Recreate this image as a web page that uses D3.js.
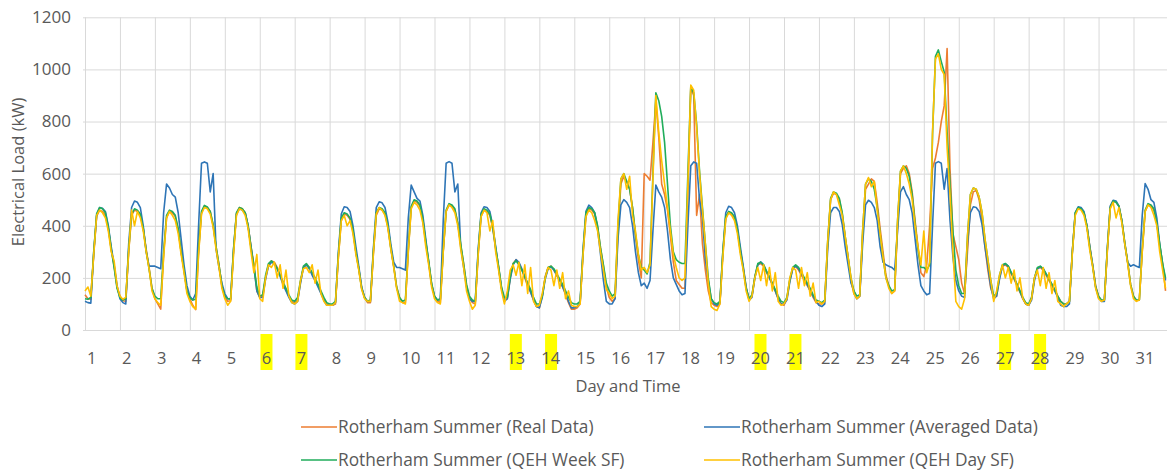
<!DOCTYPE html>
<html>
<head>
<meta charset="utf-8">
<script src="https://cdn.jsdelivr.net/npm/d3@7"></script>
<style>
  body { margin: 0; background: #fff; }
  svg { display: block; font-family: "Open Sans", sans-serif; }
  .grid line { stroke: #d9d9d9; stroke-width: 1; }
  .grid path { display: none; }
  .tick-label { fill: #595959; }
</style>
</head>
<body>
<svg id="chart" width="1167" height="473"></svg>
<script>
// day labels along the bottom, weekends highlighted in yellow
var days = d3.range(1, 32);
var highlightDays = [6, 7, 13, 14, 20, 21, 27, 28];
var yTicks = [0, 200, 400, 600, 800, 1000, 1200];

// 12 readings per day (every 2 hours), one row per day
var realData = [
  [135,120,118,290,437,460,455,440,390,310,245,165],
  [130,112,110,300,440,460,455,440,390,310,240,160],
  [120,100,80,290,430,455,450,435,385,300,230,150],
  [120,95,78,300,450,475,470,455,400,320,250,170],
  [125,110,112,300,447,470,465,450,400,320,250,150],
  [125,130,200,250,265,260,240,210,180,155,130,110],
  [105,115,185,240,250,240,215,195,170,145,120,100],
  [95,95,100,280,420,445,440,425,380,300,235,160],
  [125,105,105,290,440,465,460,445,395,315,245,165],
  [125,105,105,300,470,495,490,475,420,335,260,175],
  [130,110,105,300,455,480,475,460,410,325,255,170],
  [125,105,100,290,437,460,455,440,390,310,240,160],
  [115,120,200,255,270,255,230,200,170,145,115,90],
  [85,130,205,240,245,230,210,190,165,135,105,80],
  [80,85,100,290,440,465,460,445,395,315,245,165],
  [125,110,120,380,560,590,570,540,470,360,270,200],
  [600,590,575,720,880,740,560,520,460,360,260,190],
  [175,160,160,520,930,900,440,520,330,230,150,105],
  [95,90,100,290,430,450,445,430,385,305,240,160],
  [120,130,205,250,255,245,220,200,175,150,120,100],
  [95,120,190,235,245,230,210,190,170,150,125,105],
  [100,100,110,330,500,525,520,500,445,355,280,190],
  [140,120,130,360,540,560,580,570,490,390,300,210],
  [170,140,150,400,600,620,630,600,530,420,320,220],
  [205,250,400,620,660,720,800,860,1080,620,370,320],
  [270,180,140,300,480,530,535,500,420,320,230,160],
  [130,130,200,245,250,240,215,195,170,145,120,100],
  [95,120,200,235,240,230,210,190,170,150,130,110],
  [100,100,110,300,447,470,465,450,400,320,250,170],
  [130,112,115,300,470,495,490,475,420,335,260,175],
  [130,112,115,300,455,480,475,460,410,325,255,150]
];

var averagedData = [
  [110,105,103,300,440,470,467,455,400,320,250,170],
  [120,105,100,330,470,495,490,470,400,300,245,245],
  [245,240,235,450,560,545,520,510,450,350,250,170],
  [130,115,140,400,640,645,640,530,600,310,240,180],
  [140,120,118,310,445,465,460,450,400,320,240,150],
  [125,125,195,245,260,255,235,205,175,150,125,105],
  [100,110,180,240,250,235,210,190,165,140,115,95],
  [95,95,105,300,445,473,470,455,400,320,245,165],
  [125,110,110,310,470,492,488,470,415,330,260,240],
  [240,235,230,430,556,530,505,495,440,350,260,175],
  [130,115,120,420,640,646,640,530,560,320,240,165],
  [120,110,110,310,450,473,470,455,400,320,240,160],
  [110,120,195,250,270,260,235,205,175,145,115,90],
  [85,125,195,235,243,230,210,190,165,140,110,85],
  [85,90,105,310,455,479,470,450,390,290,190,110],
  [100,100,120,350,480,500,490,470,400,300,220,170],
  [180,160,190,380,556,530,510,470,380,270,200,175],
  [150,135,140,400,630,645,640,500,430,270,190,120],
  [100,95,105,300,450,475,470,450,400,320,245,165],
  [115,125,200,250,262,250,225,200,175,150,120,100],
  [100,115,185,235,245,235,215,195,175,150,130,110],
  [95,90,100,310,450,470,470,455,405,320,250,180],
  [150,120,130,330,480,498,490,470,420,320,260,250],
  [245,240,230,380,530,550,520,500,450,350,250,170],
  [150,135,140,400,640,646,640,540,620,420,280,190],
  [150,130,125,330,450,473,470,455,405,320,245,165],
  [120,130,195,245,255,245,220,200,175,150,120,100],
  [95,115,190,235,243,235,215,195,175,150,125,95],
  [90,90,100,300,450,473,470,455,400,320,245,165],
  [125,110,110,310,475,498,495,475,420,330,260,245],
  [250,245,240,440,562,540,500,490,430,330,250,190]
];

var weekSFData = [
  [120,118,125,300,447,470,465,450,395,310,240,160],
  [125,115,120,310,445,465,460,445,390,305,235,160],
  [130,120,120,300,440,460,455,440,390,300,230,150],
  [125,115,118,310,455,478,472,455,405,320,250,170],
  [130,120,120,310,450,470,465,450,400,315,245,165],
  [130,135,210,255,265,255,235,210,185,160,135,115],
  [110,125,190,245,255,240,220,200,175,150,125,105],
  [100,100,110,290,430,450,445,430,385,300,235,160],
  [125,110,115,300,450,470,465,450,400,315,245,165],
  [125,110,115,310,475,500,495,480,425,340,265,180],
  [130,115,115,305,460,485,480,465,410,330,255,175],
  [130,115,110,300,445,465,460,445,395,315,245,165],
  [125,125,205,255,265,250,230,205,180,155,125,100],
  [100,130,200,240,245,235,215,195,175,150,125,105],
  [100,100,110,300,450,470,465,450,400,315,250,180],
  [150,130,140,400,580,600,570,540,470,370,290,240],
  [230,215,260,600,910,880,820,720,560,400,300,270],
  [260,255,255,600,935,910,790,610,470,330,200,120],
  [105,100,110,300,435,455,450,435,385,305,235,160],
  [120,135,205,255,260,250,225,205,180,155,130,110],
  [105,125,195,240,250,240,220,200,180,160,135,115],
  [110,105,115,340,505,530,525,505,450,360,280,200],
  [150,130,135,380,560,580,570,540,470,370,280,200],
  [170,150,155,420,610,630,620,590,520,410,310,240],
  [240,230,250,750,1050,1075,1030,990,760,560,380,230],
  [170,140,140,360,520,545,540,510,450,350,270,190],
  [130,140,210,250,255,245,220,200,175,150,125,105],
  [100,125,200,240,245,235,215,195,175,155,130,110],
  [100,100,110,300,450,470,465,450,400,315,245,165],
  [130,115,115,310,470,495,490,475,420,335,260,175],
  [130,115,115,310,460,485,480,465,410,330,255,200]
];

var daySFData = [
  [150,165,130,290,440,460,450,430,380,300,265,170],
  [130,118,125,300,460,400,455,430,380,300,235,150],
  [120,105,95,280,430,455,440,420,370,290,220,140],
  [110,90,80,290,445,470,465,445,395,310,240,160],
  [120,95,110,290,440,465,460,440,390,300,220,290],
  [120,110,200,250,240,260,200,250,160,230,130,105],
  [100,110,190,235,240,220,250,180,230,140,110,95],
  [95,95,105,280,420,440,400,420,370,290,230,155],
  [120,110,110,290,445,470,460,440,390,310,240,160],
  [110,105,100,300,465,490,480,460,410,320,250,165],
  [120,105,100,300,455,480,470,450,400,310,240,150],
  [110,80,95,290,435,460,450,380,420,300,230,150],
  [100,150,230,250,210,260,170,250,140,240,110,90],
  [95,140,200,240,230,170,230,160,220,120,150,95],
  [90,90,100,290,435,460,450,420,380,300,230,155],
  [140,120,130,420,580,600,540,590,440,380,290,230],
  [240,220,250,580,900,760,650,560,470,380,290,240],
  [200,190,200,560,940,920,780,600,460,330,180,90],
  [80,75,100,280,425,450,440,420,370,290,230,150],
  [110,130,200,240,190,250,170,240,150,220,110,95],
  [100,120,200,240,230,160,240,170,220,130,180,105],
  [110,100,110,340,500,530,520,480,440,360,280,200],
  [140,120,130,380,560,585,550,570,460,370,280,200],
  [160,140,150,420,610,630,600,560,500,400,320,250],
  [380,220,260,760,1040,1060,1000,980,700,520,300,110],
  [90,80,120,360,520,545,540,510,450,350,270,190],
  [110,150,210,250,200,240,180,230,150,200,120,100],
  [95,120,200,230,170,240,160,220,140,190,110,100],
  [90,100,110,295,440,465,460,440,390,305,240,160],
  [120,110,115,300,465,490,430,470,410,330,255,170],
  [120,110,115,300,455,480,470,440,400,300,230,160]
];

var seriesNames = [
  "Rotherham Summer (Real Data)",
  "Rotherham Summer (Averaged Data)",
  "Rotherham Summer (QEH Week SF)",
  "Rotherham Summer (QEH Day SF)"
];
var seriesColors = ["#ED7D31", "#2E75B6", "#21AD5B", "#FFC000"];
var seriesData = [realData, averagedData, weekSFData, daySFData];

var svg = d3.select("#chart");
var dayWidth = 34.95;
var plotLeft = 85, plotTop = 17.3, plotBottom = 330;

var x = d3.scaleLinear()
    .domain([0, 31])
    .range([plotLeft, plotLeft + 31 * dayWidth]);
var y = d3.scaleLinear()
    .domain([0, 1200])
    .range([plotBottom, plotTop]);

// gridlines
svg.append("g")
    .attr("class", "grid")
    .attr("transform", "translate(" + (plotLeft - 2) + ",0)")
    .call(d3.axisLeft(y).tickValues(yTicks).tickSize(-(1167 - plotLeft + 2)).tickFormat(""));
svg.append("g")
    .attr("class", "grid")
    .attr("transform", "translate(0," + plotBottom + ")")
    .call(d3.axisBottom(x).tickValues(d3.range(0, 31)).tickSize(-(plotBottom - plotTop)).tickFormat(""));

// y tick labels
var yAxis = svg.append("g")
    .attr("transform", "translate(71,0)")
    .call(d3.axisLeft(y).tickValues(yTicks).tickSize(0).tickPadding(0).tickFormat(d3.format("d")));
yAxis.select(".domain").remove();
yAxis.selectAll("text")
    .attr("class", "tick-label")
    .style("font-size", "17px")
    .style("font-family", "'Open Sans', sans-serif");

// x tick labels (one per day, starting at the day's gridline)
var xAxis = svg.append("g")
    .attr("transform", "translate(0," + plotBottom + ")")
    .call(d3.axisBottom(x).tickValues(days.map(function(d) { return d - 1; }))
        .tickSize(0).tickPadding(0)
        .tickFormat(function(d) { return d + 1; }));
xAxis.select(".domain").remove();
xAxis.selectAll("text")
    .attr("class", "tick-label")
    .attr("text-anchor", "start")
    .attr("x", 1.5)
    .attr("y", 34)
    .attr("dy", 0)
    .style("font-size", "16.5px")
    .style("font-family", "'Open Sans', sans-serif");

// yellow highlight behind weekend labels
xAxis.selectAll(".tick").each(function(d) {
    if (highlightDays.indexOf(d + 1) < 0) return;
    var t = d3.select(this).select("text");
    var bb = t.node().getBBox();
    d3.select(this).insert("rect", "text")
        .attr("x", bb.x + bb.width / 2 - 6)
        .attr("y", 4)
        .attr("width", 12)
        .attr("height", 36)
        .attr("fill", "#FFFF00");
});

// axis titles
svg.append("text")
    .attr("class", "tick-label")
    .attr("transform", "translate(24,172) rotate(-90)")
    .attr("text-anchor", "middle")
    .style("font-size", "16.5px")
    .text("Electrical Load (kW)");
svg.append("text")
    .attr("class", "tick-label")
    .attr("x", 628)
    .attr("y", 392)
    .attr("text-anchor", "middle")
    .style("font-size", "16.5px")
    .text("Day and Time");

// lines
var line = d3.line()
    .x(function(d) { return x(d.t); })
    .y(function(d) { return y(d.v); });

seriesData.forEach(function(rows, s) {
    var pts = [];
    rows.forEach(function(row, day) {
        row.forEach(function(v, i) { pts.push({ t: day + i / 12, v: v }); });
    });
    svg.append("path")
        .datum(pts)
        .attr("fill", "none")
        .attr("stroke", seriesColors[s])
        .attr("stroke-width", 1.6)
        .attr("stroke-linejoin", "round")
        .attr("d", line);
});

// legend, two per row
var legendPos = [[301, 427], [704, 427], [301, 460], [704, 460]];
seriesNames.forEach(function(name, s) {
    var g = svg.append("g")
        .attr("transform", "translate(" + legendPos[s][0] + "," + legendPos[s][1] + ")");
    g.append("line")
        .attr("x1", 0).attr("x2", 36)
        .attr("stroke", seriesColors[s])
        .attr("stroke-width", 1.5);
    g.append("text")
        .attr("class", "tick-label")
        .attr("x", 37)
        .attr("y", 6)
        .style("font-size", "17.3px")
        .text(name);
});
</script>
</body>
</html>
